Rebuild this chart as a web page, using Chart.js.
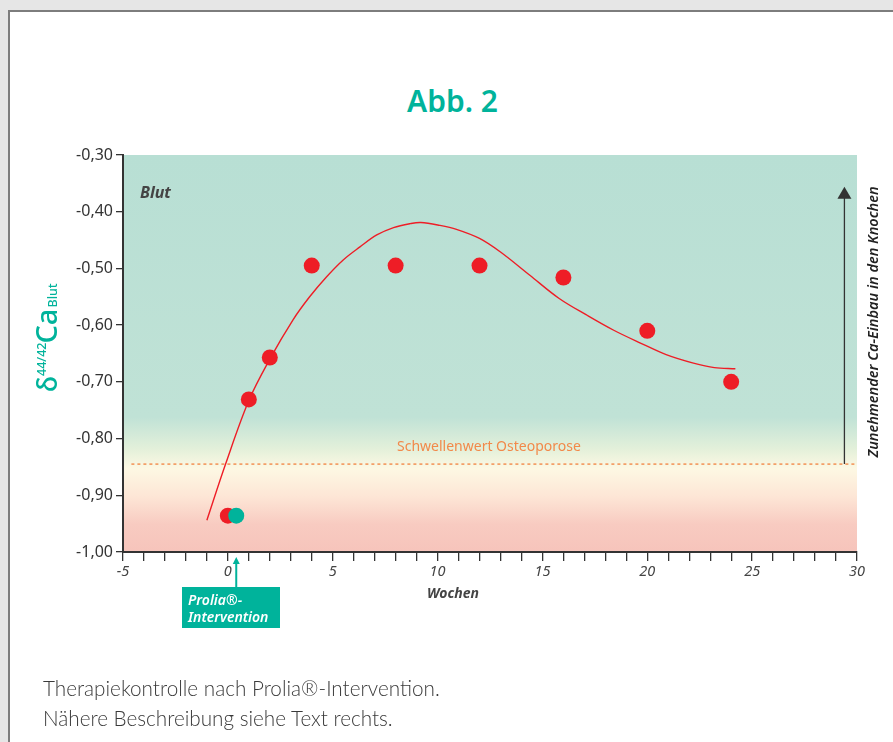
<!DOCTYPE html>
<html>
<head>
<meta charset="utf-8">
<script src="https://cdn.jsdelivr.net/npm/chart.js@4.4.1/dist/chart.umd.min.js"></script>
<style>
  html, body { margin: 0; padding: 0; background: #e6e6e6; }
  body { width: 893px; height: 742px; overflow: hidden; position: relative; font-family: "Noto Sans", sans-serif; }
  .card { position: absolute; left: 8px; top: 10px; width: 900px; height: 760px; background: #fff; border: 2px solid #7d7d7d; box-sizing: border-box; }
  #chart { position: absolute; left: 0; top: 0; }
  .title { position: absolute; left: 0; width: 905px; top: 80px; text-align: center; color: #00b39b; font: 600 30px "Noto Sans", sans-serif; }
  .caption { position: absolute; left: 43px; top: 673px; color: #3a3a3a; font: 300 20.7px Lato, "Noto Sans", sans-serif; line-height: 30px; }
</style>
</head>
<body>
<div class="card"></div>
<div class="title">Abb. 2</div>
<canvas id="chart" width="893" height="742"></canvas>
<div class="caption">Therapiekontrolle nach Prolia®-Intervention.<br>Nähere Beschreibung siehe Text rechts.</div>
<script>
// Data
const weeks = [0, 1, 2, 4, 8, 12, 16, 20, 24];
const deltaBlood = [-0.936, -0.731, -0.657, -0.495, -0.495, -0.495, -0.516, -0.610, -0.700];

const interventionWeek = [0.4];
const interventionDelta = [-0.936];

// fitted trend line
const curveWeeks = [-1, -0.1, 1, 2, 3.1, 3.9, 4.7, 5.5, 6.3, 7.1, 7.9, 8.7, 9.2, 10.1, 10.9, 12, 13, 14.4, 15.8, 17.1, 18.4, 19.7, 20.9, 22.2, 23.2, 24.2];
const curveDelta = [-0.944, -0.844, -0.733, -0.660, -0.591, -0.550, -0.515, -0.485, -0.462, -0.441, -0.428, -0.421, -0.419, -0.424, -0.431, -0.447, -0.471, -0.512, -0.553, -0.582, -0.609, -0.632, -0.652, -0.667, -0.675, -0.677];

const thresholdWeeks = [-4.6, 30];
const thresholdValue = -0.845;

const xLabelWeeks = [-5, 0, 5, 10, 15, 20, 25, 30];
const yTickValues = [-1.0, -0.9, -0.8, -0.7, -0.6, -0.5, -0.4, -0.3];

// Colors
const red = "#ee1d26";
const teal = "#00b39b";
const orange = "#f2894a";
const dark = "#333333";

const toPoints = (xs, ys) => xs.map((x, i) => ({x: x, y: Array.isArray(ys) ? ys[i] : ys}));

// Plugin: background, annotations, texts
const decorations = {
    id: "decorations",
    beforeDraw: (chart) => {
        const {ctx, chartArea: a} = chart;
        let g = ctx.createLinearGradient(0, a.top, 0, a.bottom);
        g.addColorStop(0, "#b8dfd4");
        g.addColorStop(0.66, "#c0e2d6");
        g.addColorStop(0.74, "#e3f0da");
        g.addColorStop(0.79, "#fdf8e3");
        g.addColorStop(0.86, "#fde6d6");
        g.addColorStop(0.93, "#f8cbc1");
        g.addColorStop(1, "#f6c4bb");
        ctx.save();
        ctx.fillStyle = g;
        ctx.fillRect(a.left, a.top, a.right - a.left, a.bottom - a.top);
        ctx.restore();
    },
    afterDraw: (chart) => {
        const {ctx, scales: {x, y}} = chart;
        ctx.save();

        // Blut
        ctx.fillStyle = "#444";
        ctx.font = "italic bold 16px 'Noto Sans'";
        ctx.textBaseline = "alphabetic";
        ctx.fillText("Blut", 140, 198);

        // threshold label
        ctx.fillStyle = orange;
        ctx.font = "14px 'Noto Sans'";
        ctx.fillText("Schwellenwert Osteoporose", 397, 451);

        // right arrow
        let ax = x.getPixelForValue(29.4);
        let ay0 = y.getPixelForValue(thresholdValue);
        let ay1 = y.getPixelForValue(-0.356);
        ctx.strokeStyle = dark;
        ctx.fillStyle = dark;
        ctx.lineWidth = 1.3;
        ctx.beginPath();
        ctx.moveTo(ax, ay0);
        ctx.lineTo(ax, ay1 + 10);
        ctx.stroke();
        ctx.beginPath();
        ctx.moveTo(ax, ay1);
        ctx.lineTo(ax - 7, ay1 + 12);
        ctx.lineTo(ax + 7, ay1 + 12);
        ctx.closePath();
        ctx.fill();

        // right rotated text
        ctx.save();
        ctx.translate(878, 322);
        ctx.rotate(-Math.PI / 2);
        ctx.fillStyle = "#222";
        ctx.font = "italic 600 14.5px 'Noto Sans'";
        ctx.textAlign = "center";
        ctx.fillText("Zunehmender Ca-Einbau in den Knochen", 0, 0);
        ctx.restore();

        // y axis title
        ctx.save();
        ctx.translate(57, 392);
        ctx.rotate(-Math.PI / 2);
        ctx.fillStyle = teal;
        let pos = 0;
        ctx.font = "500 27px 'Noto Sans'";
        ctx.fillText("δ", pos, 0);
        pos += ctx.measureText("δ").width;
        ctx.font = "500 12.5px 'Noto Sans'";
        ctx.fillText("44/42", pos, -11);
        pos += ctx.measureText("44/42").width;
        ctx.font = "500 29px 'Noto Sans'";
        ctx.fillText("Ca", pos - 1, 0);
        pos += ctx.measureText("Ca").width;
        ctx.font = "500 12.5px 'Noto Sans'";
        ctx.fillText("Blut", pos, 0);
        ctx.restore();

        // x axis title
        ctx.fillStyle = "#444";
        ctx.font = "italic bold 14px 'Noto Sans'";
        ctx.textAlign = "center";
        ctx.fillText("Wochen", 453, 598);

        // Prolia box + arrow
        let px = x.getPixelForValue(interventionWeek[0]);
        ctx.strokeStyle = teal;
        ctx.fillStyle = teal;
        ctx.lineWidth = 2;
        ctx.beginPath();
        ctx.moveTo(px, 587);
        ctx.lineTo(px, 562);
        ctx.stroke();
        ctx.beginPath();
        ctx.moveTo(px, 557);
        ctx.lineTo(px - 3.5, 564);
        ctx.lineTo(px + 3.5, 564);
        ctx.closePath();
        ctx.fill();
        ctx.fillRect(182, 587, 98, 41);
        ctx.fillStyle = "#fff";
        ctx.textAlign = "left";
        ctx.font = "italic 600 14px 'Noto Sans'";
        ctx.fillText("Prolia®-", 188, 605);
        ctx.fillText("Intervention", 188, 622);

        ctx.restore();
    }
};

new Chart(document.getElementById("chart"), {
    type: "scatter",
    data: {
        datasets: [
            {
                label: "Intervention",
                data: toPoints(interventionWeek, interventionDelta),
                backgroundColor: teal,
                borderWidth: 0,
                pointRadius: 8,
                order: 0
            },
            {
                label: "Blut",
                data: toPoints(weeks, deltaBlood),
                backgroundColor: red,
                borderWidth: 0,
                pointRadius: 8,
                order: 1
            },
            {
                label: "Trend",
                data: toPoints(curveWeeks, curveDelta),
                showLine: true,
                borderColor: red,
                borderWidth: 1.4,
                pointRadius: 0,
                tension: 0.35,
                order: 2
            },
            {
                label: "Schwellenwert",
                data: toPoints(thresholdWeeks, thresholdValue),
                showLine: true,
                borderColor: orange,
                borderWidth: 1.4,
                borderDash: [3, 3],
                pointRadius: 0,
                order: 3
            }
        ]
    },
    options: {
        responsive: false,
        devicePixelRatio: 1,
        animation: false,
        layout: {
            padding: {left: 73, top: 155, right: 36, bottom: 150}
        },
        plugins: {
            legend: {display: false},
            tooltip: {enabled: false}
        },
        scales: {
            x: {
                type: "linear",
                min: -5,
                max: 30,
                afterFit: (scale) => { scale.height = 40; },
                border: {display: true, color: dark, width: 2},
                grid: {drawOnChartArea: false, drawTicks: true, tickLength: 9, color: dark, lineWidth: 1.3},
                ticks: {
                    stepSize: 1,
                    autoSkip: false,
                    maxRotation: 0,
                    padding: 2,
                    color: "#444",
                    font: {family: "'Noto Sans'", size: 14.5, style: "italic"},
                    callback: (v) => xLabelWeeks.includes(v) ? String(v) : ""
                }
            },
            y: {
                type: "linear",
                min: -1,
                max: -0.3,
                afterFit: (scale) => { scale.width = 50; },
                afterBuildTicks: (scale) => { scale.ticks = yTickValues.map(v => ({value: v})); },
                border: {display: true, color: dark, width: 2},
                grid: {drawOnChartArea: false, drawTicks: true, tickLength: 7, color: dark, lineWidth: 1.3},
                ticks: {
                    padding: 3,
                    color: dark,
                    font: {family: "'Noto Sans'", size: 16},
                    callback: (v) => v.toFixed(2).replace(".", ",")
                }
            }
        }
    },
    plugins: [decorations]
});
</script>
</body>
</html>
